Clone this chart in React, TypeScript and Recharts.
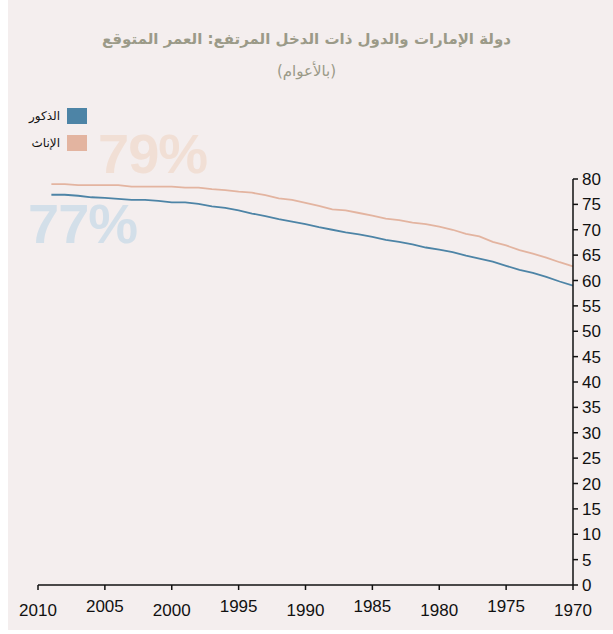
import React from 'react';
import { LineChart, Line, XAxis, YAxis } from 'recharts';

const years = [
  2009, 2008, 2007, 2006, 2005, 2004, 2003, 2002, 2001, 2000,
  1999, 1998, 1997, 1996, 1995, 1994, 1993, 1992, 1991, 1990,
  1989, 1988, 1987, 1986, 1985, 1984, 1983, 1982, 1981, 1980,
  1979, 1978, 1977, 1976, 1975, 1974, 1973, 1972, 1971, 1970,
];

const females = [
  79.0, 79.0, 78.8, 78.8, 78.8, 78.8, 78.5, 78.5, 78.5, 78.5,
  78.3, 78.3, 78.0, 77.8, 77.5, 77.3, 76.8, 76.2, 75.9, 75.3,
  74.7, 74.0, 73.8, 73.3, 72.8, 72.2, 71.9, 71.4, 71.1, 70.6,
  70.0, 69.2, 68.7, 67.6, 66.9, 66.0, 65.3, 64.5, 63.6, 62.8,
];

const males = [
  76.9, 76.9, 76.7, 76.4, 76.3, 76.1, 75.9, 75.9, 75.7, 75.4,
  75.4, 75.1, 74.6, 74.3, 73.8, 73.2, 72.7, 72.1, 71.6, 71.1,
  70.5, 70.0, 69.5, 69.1, 68.6, 68.0, 67.6, 67.1, 66.5, 66.1,
  65.6, 64.9, 64.3, 63.7, 62.9, 62.1, 61.5, 60.7, 59.8, 59.0,
];

const xTicks = [2010, 2005, 2000, 1995, 1990, 1985, 1980, 1975, 1970];
const yTicks = [0, 5, 10, 15, 20, 25, 30, 35, 40, 45, 50, 55, 60, 65, 70, 75, 80];

const title = 'دولة الإمارات والدول ذات الدخل المرتفع: العمر المتوقع';
const subtitle = '(بالأعوام)';
const maleLabel = 'الذكور';
const femaleLabel = 'الإناث';

const maleColor = '#4d84a6';
const femaleColor = '#e3b4a0';

const data = years.map((year, i) => ({ year, female: females[i], male: males[i] }));

// labels alternate slightly in height, like the original
const YearTick = (props: any) => {
  const { x, y, payload } = props;
  const odd = ((2010 - payload.value) / 5) % 2 === 1;
  return (
    <text
      x={x}
      y={y + (odd ? 20 : 24)}
      textAnchor="middle"
      fontSize={17}
      fontFamily="Liberation Sans, Arial, sans-serif"
      fill="#111"
    >
      {payload.value}
    </text>
  );
};

const App = () => {
  return (
    <div style={{ position: 'absolute', left: 0, top: 0, width: 613, height: 634 }}>
      <div style={{ position: 'absolute', left: 8, top: 0, width: 605, height: 630, background: '#f4eeee' }} />
      <div
        style={{
          position: 'absolute', left: 0, width: 613, top: 30, textAlign: 'center',
          fontFamily: 'DejaVu Sans, sans-serif', fontWeight: 'bold', fontSize: 15, color: '#9b9a88', direction: 'rtl',
        }}
      >
        {title}
      </div>
      <div
        style={{
          position: 'absolute', left: 0, width: 613, top: 62, textAlign: 'center',
          fontFamily: 'DejaVu Sans, sans-serif', fontSize: 15, color: '#9b9a88', direction: 'rtl',
        }}
      >
        {subtitle}
      </div>
      <div
        style={{
          position: 'absolute', left: 98, top: 124, fontFamily: 'Liberation Sans, Arial, sans-serif',
          fontWeight: 'bold', fontSize: 56, lineHeight: '60px', color: '#f1dfd5', letterSpacing: -1,
        }}
      >
        79%
      </div>
      <div
        style={{
          position: 'absolute', left: 28, top: 194, fontFamily: 'Liberation Sans, Arial, sans-serif',
          fontWeight: 'bold', fontSize: 56, lineHeight: '60px', color: '#d3dfe9', letterSpacing: -1,
        }}
      >
        77%
      </div>
      <div style={{ position: 'absolute', left: 67, top: 108, width: 20, height: 16, background: maleColor }} />
      <div style={{ position: 'absolute', left: 67, top: 135, width: 20, height: 16, background: femaleColor }} />
      <div
        style={{
          position: 'absolute', right: 553, top: 108, fontSize: 12, lineHeight: '16px',
          fontFamily: 'DejaVu Sans, sans-serif', color: '#111', direction: 'rtl',
        }}
      >
        {maleLabel}
      </div>
      <div
        style={{
          position: 'absolute', right: 553, top: 135, fontSize: 12, lineHeight: '16px',
          fontFamily: 'DejaVu Sans, sans-serif', color: '#111', direction: 'rtl',
        }}
      >
        {femaleLabel}
      </div>
      <div style={{ position: 'absolute', left: 0, top: 0 }}>
        <LineChart width={613} height={634} data={data} margin={{ top: 179, right: 0, bottom: 19, left: 38 }}>
          <XAxis
            dataKey="year"
            type="number"
            domain={[1970, 2010]}
            ticks={xTicks}
            reversed
            stroke="#111"
            strokeWidth={1.5}
            tickSize={5}
            height={30}
            tick={<YearTick />}
          />
          <YAxis
            orientation="right"
            domain={[0, 80]}
            ticks={yTicks}
            stroke="#111"
            strokeWidth={1.5}
            tickSize={5}
            width={40}
            tick={{ fill: '#111', fontSize: 17, fontFamily: 'Liberation Sans, Arial, sans-serif' }}
            tickMargin={4}
          />
          <Line dataKey="female" stroke={femaleColor} strokeWidth={1.8} dot={false} isAnimationActive={false} />
          <Line dataKey="male" stroke={maleColor} strokeWidth={1.8} dot={false} isAnimationActive={false} />
        </LineChart>
      </div>
    </div>
  );
};

export default App;
